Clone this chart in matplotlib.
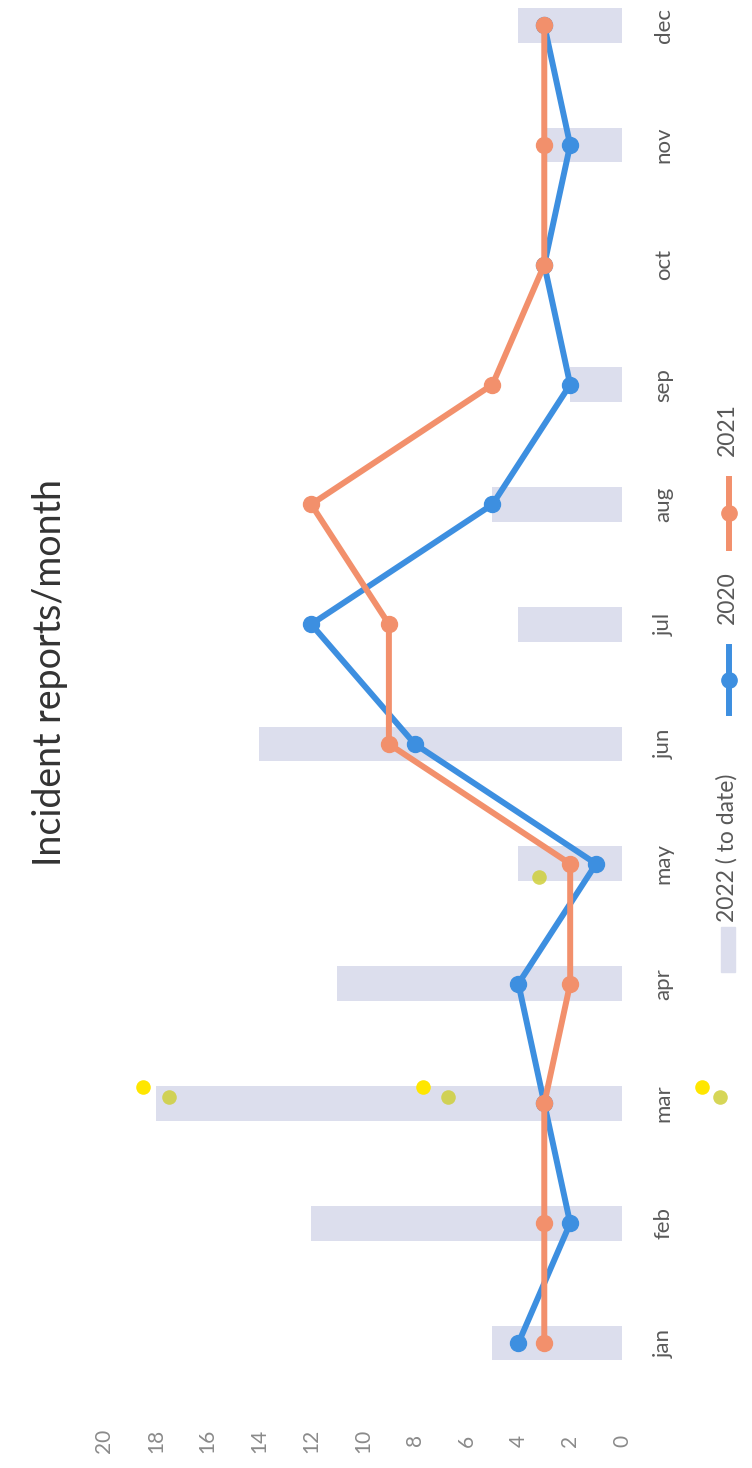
import matplotlib
matplotlib.use("Agg")
import matplotlib.pyplot as plt
import numpy as np
from matplotlib.lines import Line2D
from matplotlib.patches import Rectangle

plt.rcParams['font.family'] = ['Lato', 'DejaVu Sans']

months = ['jan', 'feb', 'mar', 'apr', 'may', 'jun', 'jul', 'aug', 'sep', 'oct', 'nov', 'dec']
reports_2022 = [5, 12, 18, 11, 4, 14, 4, 5, 2, 0, 3, 4]
reports_2020 = [4, 2, 3, 4, 1, 8, 12, 5, 2, 3, 2, 3]
reports_2021 = [3, 3, 3, 2, 2, 9, 9, 12, 5, 3, 3, 3]
value_ticks = list(range(0, 21, 2))

# yellow highlighter dots on the paper (value, month position)
marker_vals = [18.5, 7.7, -3.1]
marker_pos = [2.14, 2.14, 2.14]
faded_vals = [17.5, 6.7, -3.8, 3.2]
faded_pos = [2.05, 2.05, 2.05, 3.89]

BLUE = '#3d8fe0'
ORANGE = '#f2906c'
BAR = '#dcdeed'
TEXT = '#595959'

fig = plt.figure(figsize=(7.52, 14.68), dpi=100)
ax = fig.add_axes([0.1383, 0.0443, 0.6888, 0.9557])

y = np.arange(len(months))
ax.barh(y, reports_2022, height=0.29, color=BAR, zorder=1)
ax.plot(reports_2020, y, color=BLUE, lw=4.3, marker='o', ms=11.5, zorder=3)
ax.plot(reports_2021, y, color=ORANGE, lw=4.3, marker='o', ms=11.5, zorder=4)

ax.scatter(faded_vals, faded_pos, s=110, color='#cfcf3a', alpha=0.85, zorder=2, clip_on=False, lw=0)
ax.scatter(marker_vals, marker_pos, s=110, color='#ffe600', zorder=2, clip_on=False, lw=0)

ax.set_xlim(20, 0)
ax.set_ylim(-0.5, 11.21)
ax.set_xticks(value_ticks)
ax.set_xticklabels([str(v) for v in value_ticks], rotation=90, va='center',
                   fontsize=15, color='#8a8a8a')
ax.set_yticks(y)
ax.set_yticklabels(months, rotation=90, va='center', ha='center', fontsize=16, color=TEXT)
ax.yaxis.tick_right()
ax.tick_params(axis='x', length=0, pad=27)
ax.tick_params(axis='y', length=0, pad=30)
for s in ax.spines.values():
    s.set_visible(False)

# title, rotated like the scan
fig.text(50 / 752, 1 - 672 / 1468, 'Incident reports/month', rotation=90,
         ha='center', va='center', fontsize=27, color='#333333')

# legend drawn by hand since it's sideways
def fx(px):
    return px / 752

def fy(px):
    return 1 - px / 1468

fig.add_artist(Rectangle((fx(721), fy(972)), 14 / 752, 45 / 1468,
                         transform=fig.transFigure, color=BAR))
fig.text(fx(727), fy(848), '2022 ( to date)', rotation=90, ha='center', va='center',
         fontsize=16.5, color=TEXT)
fig.add_artist(Line2D([fx(729), fx(729)], [fy(713), fy(647)], transform=fig.transFigure,
                      color=BLUE, lw=4.3))
fig.add_artist(Line2D([fx(729)], [fy(680)], transform=fig.transFigure,
                      color=BLUE, marker='o', ms=11))
fig.text(fx(727), fy(598), '2020', rotation=90, ha='center', va='center',
         fontsize=16.5, color=TEXT)
fig.add_artist(Line2D([fx(729), fx(729)], [fy(548), fy(479)], transform=fig.transFigure,
                      color=ORANGE, lw=4.3))
fig.add_artist(Line2D([fx(729)], [fy(513)], transform=fig.transFigure,
                      color=ORANGE, marker='o', ms=11))
fig.text(fx(727), fy(430), '2021', rotation=90, ha='center', va='center',
         fontsize=16.5, color=TEXT)

fig.savefig('out.png', dpi=100, facecolor='white')
